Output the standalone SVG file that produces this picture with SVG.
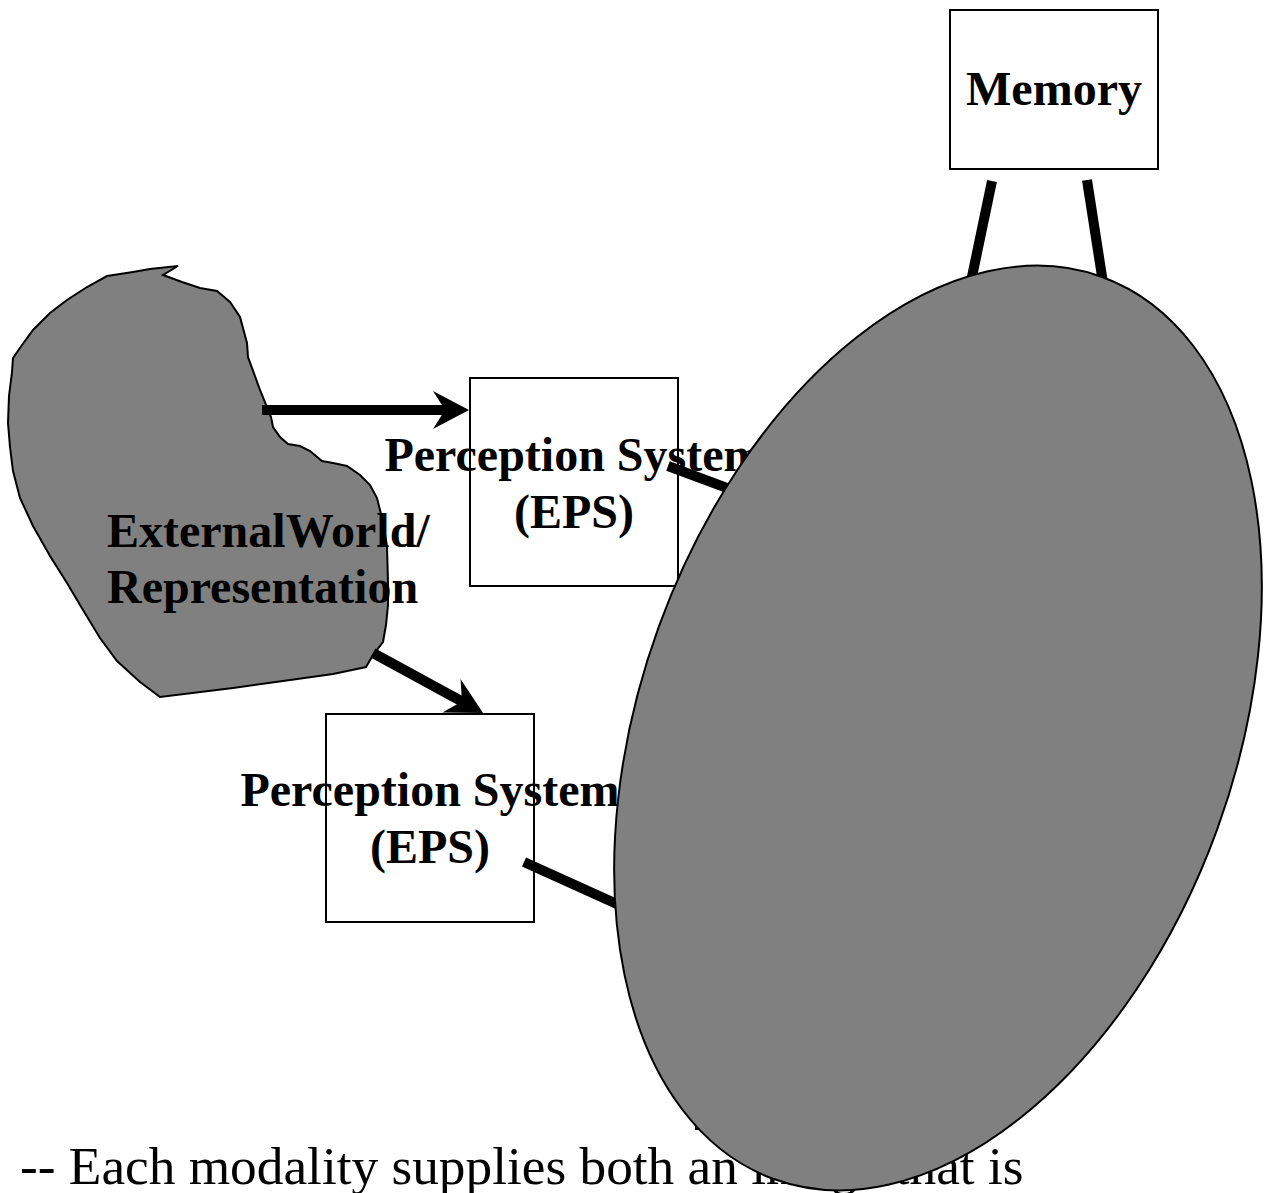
<svg xmlns="http://www.w3.org/2000/svg" width="1269" height="1193" viewBox="0 0 1269 1193">
  <defs>
    <style>
      .box { fill: #ffffff; stroke: #000000; stroke-width: 2; }
      .shape { fill: #808080; stroke: #000000; stroke-width: 2; }
      .lbl { font-family: "Liberation Serif", "Times New Roman", serif; font-weight: bold; font-size: 48px; fill: #000000; }
      .body { font-family: "Liberation Serif", "Times New Roman", serif; font-size: 53.3px; fill: #000000; }
      .conn { stroke: #000000; stroke-width: 10; fill: none; }
    </style>
    <marker id="head" markerUnits="userSpaceOnUse" markerWidth="80" markerHeight="80" refX="0" refY="0" orient="auto" overflow="visible">
      <path d="M24,0 L-12,-19 L0,0 L-12,19 Z" fill="#000000"/>
    </marker>
  </defs>
  <rect x="0" y="0" width="1269" height="1193" fill="#ffffff"/>

  <text class="body" x="20" y="1184">-- Each modality supplies both an image that is</text>

  <g id="external-world">
    <path class="shape" stroke-width="1.5" d="M13,358 L22,345 L33,330 L50,313 L67,300 L87,287 L107,276 L133,272 L150,269 L178,266 L163,275 L182,282 L200,288 L217,291 L230,302 L240,317 L247,343 L248,357 L260,390 L271,417 L273,427 L280,437 L288,444 L300,446 L310,451 L322,461 L333,463 L347,466 L360,475 L370,485 L377,498 L383,522 L387,546 L388,583 L388,605 L386,625 L383,642 L373,655 L366,667 L333,674 L283,681 L233,688 L160,697 L140,682 L117,661 L100,638 L83,610 L67,583 L50,556 L33,526 L20,498 L13,471 L10,447 L8,423 L9,396 L12,372 Z"/>
    <text class="lbl" x="107" y="547">ExternalWorld/</text>
    <text class="lbl" x="107" y="603">Representation</text>
  </g>

  <g id="eps-3">
    <rect class="box" x="696" y="921" width="208" height="208"/>
  </g>

  <g id="eps-1">
    <rect class="box" x="470" y="378" width="208" height="208"/>
    <text class="lbl" x="574" y="471" text-anchor="middle">Perception System</text>
    <text class="lbl" x="574" y="528" text-anchor="middle">(EPS)</text>
  </g>

  <g id="eps-2">
    <rect class="box" x="326" y="714" width="208" height="208"/>
    <text class="lbl" x="430" y="806" text-anchor="middle">Perception System</text>
    <text class="lbl" x="430" y="863" text-anchor="middle">(EPS)</text>
  </g>

  <g id="memory">
    <rect class="box" x="950" y="10" width="208" height="159"/>
    <text class="lbl" x="1054" y="105" text-anchor="middle">Memory</text>
  </g>

  <g id="connectors">
    <line class="conn" x1="262" y1="410" x2="445" y2="410" marker-end="url(#head)"/>
    <line class="conn" x1="373" y1="653" x2="462" y2="701.5" marker-end="url(#head)"/>
    <line class="conn" x1="668" y1="466" x2="770" y2="504"/>
    <line class="conn" x1="524" y1="862" x2="650" y2="919"/>
    <line class="conn" x1="992" y1="181" x2="964" y2="315"/>
    <line class="conn" x1="1087" y1="180" x2="1108" y2="315"/>
  </g>

  <g id="cognition">
    <ellipse class="shape" cx="938" cy="728" rx="297" ry="480" transform="rotate(20 938 728)"/>
  </g>
</svg>
